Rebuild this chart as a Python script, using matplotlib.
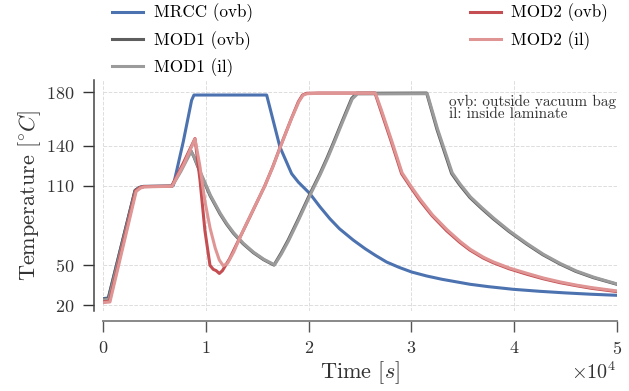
import matplotlib
matplotlib.use("Agg")
import matplotlib.pyplot as plt

plt.rcParams['font.family'] = 'cmr10'
plt.rcParams['mathtext.fontset'] = 'cm'
plt.rcParams['axes.formatter.use_mathtext'] = True

# curve points (time in s, temperature in degC)
t_mrcc = [0, 490, 3090, 3500, 3900, 6660, 6820, 7790, 8600, 8830, 15910,
          17200, 18340, 19000, 20130, 21100, 22070, 23000, 24340, 25500,
          26500, 27590, 28800, 30030, 31500, 33000, 35700, 37500, 39920,
          42500, 45000, 47500, 50000]
T_mrcc = [25, 25.5, 106.3, 108.5, 109.3, 109.5, 110, 143, 174, 178, 178,
          139, 118.9, 112.5, 103.8, 94, 85, 77.5, 69, 62.5,
          57.5, 52.5, 48.5, 45, 42, 39.5, 35.8, 34, 32,
          30.5, 29.3, 28.3, 27.5]

t_mod1_ovb = [0, 490, 3090, 3500, 3900, 6660, 7500, 8510, 8800, 9420, 10390,
              11360, 12000, 12660, 13600, 14600, 15600, 16620, 17300, 18000,
              19000, 20130, 21100, 21800, 22400, 23300, 24190, 24670, 31490,
              32500, 33920, 34700, 35700, 36800, 37970, 39500, 41220, 42800,
              44470, 46000, 47710, 50000]
T_mod1_ovb = [24.5, 25, 106.3, 108.5, 109.3, 109.5, 121, 136.5, 132, 120, 102.5,
              88.7, 81, 74.2, 66.3, 59.6, 54.3, 50.2, 59, 69,
              85, 103.8, 119, 131, 142, 159, 175.5, 179.3, 179.5,
              152, 119, 110.5, 101, 93, 85, 75.5, 66, 58,
              51, 45.5, 40.8, 35.8]

t_mod1_il = [0, 550, 3150, 3550, 3950, 6700, 7550, 8550, 8850, 9470, 10440,
             11410, 12050, 12710, 13650, 14650, 15650, 16680, 17350, 18050,
             19050, 20180, 21150, 21850, 22450, 23350, 24240, 24750, 31550,
             32550, 33980, 34760, 35760, 36860, 38030, 39560, 41280, 42860,
             44530, 46060, 47770, 50000]
T_mod1_il = [24, 24.5, 106, 108.3, 109.2, 109.4, 120.5, 135.5, 131.5, 119.8, 102.6,
             88.9, 81.2, 74.4, 66.5, 59.8, 54.5, 50.4, 58.6, 68.6,
             84.6, 103.4, 118.6, 130.6, 141.6, 158.6, 175, 178.8, 179,
             152.5, 119.5, 111, 101.4, 93.4, 85.4, 75.8, 66.3, 58.3,
             51.3, 45.8, 41.1, 36.1]

t_mod2_ovb = [0, 600, 3150, 3550, 3950, 6660, 7800, 8930, 9420, 9900, 10390,
              10710, 11000, 11300, 11600, 12300, 13310, 14500, 15740, 16500,
              17280, 18300, 19000, 19400, 19800, 21000, 26460, 27000, 28000,
              29050, 30000, 30840, 32000, 33440, 34730, 35700, 37000, 37970,
              39500, 41220, 42800, 44470, 46000, 47500, 50000]
T_mod2_ovb = [22.6, 23, 106, 108.3, 109.2, 109.5, 127, 145.3, 114, 76, 50,
              47, 46, 43.9, 46, 55, 71, 90, 110, 124,
              140, 160, 173, 178, 179.3, 179.5, 179.5, 167, 144,
              118.9, 108, 98.7, 87.5, 76, 67.2, 61.5, 55.5, 52,
              47.5, 43.4, 40, 37, 34.8, 32.8, 30.3]

t_mod2_il = [0, 650, 3200, 3600, 4000, 6700, 7850, 8930, 9400, 9900, 10400,
             10900, 11300, 11680, 12100, 12700, 13400, 14550, 15780, 16540,
             17320, 18340, 19050, 19450, 19850, 21000, 26500, 27050, 28050,
             29100, 30050, 30900, 32050, 33500, 34780, 35750, 37050, 38020,
             39550, 41270, 42850, 44520, 46050, 47550, 50000]
T_mod2_il = [22, 22.5, 105.5, 108, 109, 109.4, 126, 145, 125, 98, 78,
             63, 54, 49.7, 51.5, 60, 72.5, 91, 110.5, 124.5,
             140.5, 160.5, 173, 177.8, 179, 179.3, 179.3, 167.5, 144.5,
             119.5, 108.5, 99.3, 88, 76.6, 67.8, 62, 56, 52.5,
             48, 44, 40.5, 37.5, 35.2, 33.3, 30.8]

series = [
    ("MRCC (ovb)", t_mrcc, T_mrcc, "#4C72B0"),
    ("MOD1 (ovb)", t_mod1_ovb, T_mod1_ovb, "#5E5E5E"),
    ("MOD1 (il)", t_mod1_il, T_mod1_il, "#9B9B9B"),
    ("MOD2 (ovb)", t_mod2_ovb, T_mod2_ovb, "#C44E52"),
    ("MOD2 (il)", t_mod2_il, T_mod2_il, "#E09595"),
]

fig = plt.figure(figsize=(6.29, 3.91), dpi=100)
ax = fig.add_axes([0.1642, 0.2046, 0.8163, 0.5898])

for name, t, T, c in series:
    ax.plot(t, T, color=c, lw=2.2, label=name, solid_joinstyle='round')

ax.set_xlim(0, 5e4)
ax.set_ylim(15.7, 189)
ax.set_yticks([20, 50, 110, 140, 180])
ax.set_xticks([0, 1e4, 2e4, 3e4, 4e4, 5e4])
ax.ticklabel_format(axis='x', style='sci', scilimits=(0, 0))
ax.xaxis.get_offset_text().set_fontsize(14.5)
ax.xaxis.get_offset_text().set_color('#333333')

ax.grid(True, ls='--', lw=0.7, color='#dddddd')
ax.set_axisbelow(True)

for s in ['top', 'right']:
    ax.spines[s].set_visible(False)
ax.spines['left'].set_position(('outward', 7))
ax.spines['bottom'].set_position(('outward', 7))
ax.spines['left'].set_color('#444444')
ax.spines['left'].set_linewidth(1.1)
ax.spines['bottom'].set_color('#888888')
ax.spines['bottom'].set_linewidth(1.4)
ax.tick_params(axis='both', direction='out', length=7.7, width=1.0,
               labelsize=13, colors='#333333', pad=6)
ax.tick_params(axis='x', colors='#555555', labelcolor='#333333')

ax.set_xlabel(r"Time [$s$]", fontsize=16, color='#333333', labelpad=2)
ax.set_ylabel(r"Temperature [$^{\circ}C$]", fontsize=16, color='#333333',
              labelpad=2)

ax.text(33700, 178.5, "ovb: outside vacuum bag\nil: inside laminate",
        fontsize=11, va='top', ha='left', color='#333333', linespacing=0.85)

ax.legend(loc='lower left', bbox_to_anchor=(0, 0.978, 1, 0.2), mode='expand',
          ncol=2, frameon=False, fontsize=12.3, handlelength=1.85,
          handletextpad=0.6, labelspacing=0.5, borderaxespad=0.1)

fig.savefig("out.png", dpi=100)
